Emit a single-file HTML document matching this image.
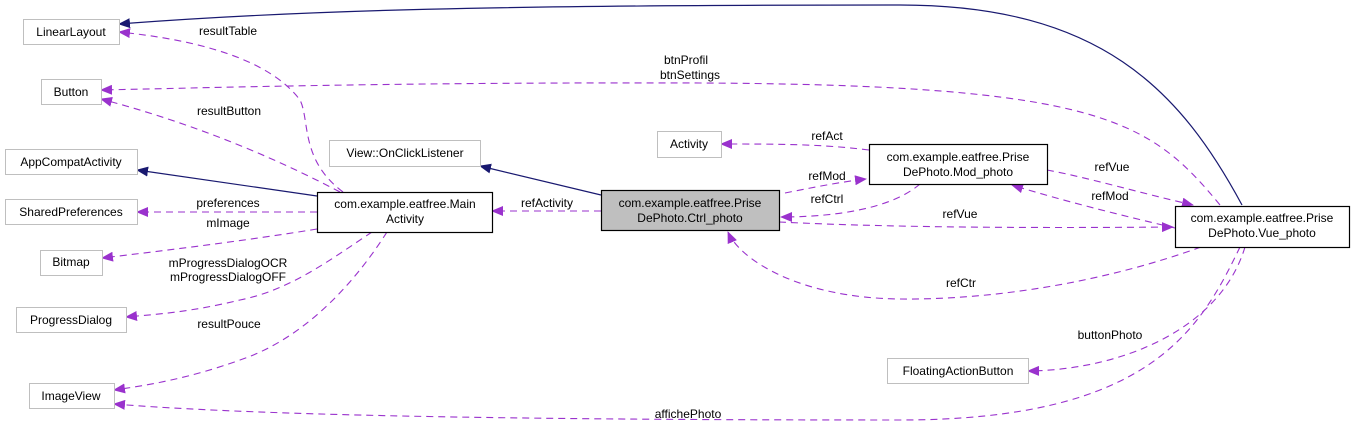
<!DOCTYPE html>
<html><head><meta charset="utf-8"><style>
body{margin:0;background:#fff}
svg{display:block}
text{font-family:"Liberation Sans",Arial,sans-serif;font-size:12px;fill:#000}
.g{fill:#fff;stroke:#bfbfbf;stroke-width:1}
.b{fill:#fff;stroke:#000;stroke-width:1.2}
.d{fill:none;stroke:#9a32cd;stroke-width:1.1;stroke-dasharray:7,5}
.n{fill:none;stroke:#191970;stroke-width:1.2}
</style></head><body>
<svg width="1353" height="428" viewBox="0 0 1353 428">
<defs>
<marker id="p" markerWidth="12" markerHeight="10" refX="11" refY="5" orient="auto" markerUnits="userSpaceOnUse"><path d="M0,0 L12,5 L0,10z" fill="#9a32cd"/></marker>
<marker id="v" markerWidth="12" markerHeight="10" refX="11" refY="5" orient="auto" markerUnits="userSpaceOnUse"><path d="M0,0 L12,5 L0,10z" fill="#191970"/></marker>
</defs>
<!-- edges -->
<path class="n" d="M1242,205 C1180,90 1100,5 900,5 C500,5 300,10 119,24" marker-end="url(#v)"/>
<path class="n" d="M317,196 L137,170" marker-end="url(#v)"/>
<path class="n" d="M601,195 L480,166" marker-end="url(#v)"/>
<path class="d" d="M343,192 C300,160 310,120 300,100 C270,60 200,40 119,32" marker-end="url(#p)"/>
<path class="d" d="M340,192 C260,150 180,120 101,99" marker-end="url(#p)"/>
<path class="d" d="M1220,205 C1150,120 1100,85 700,83 C400,82 200,88 101,90" marker-end="url(#p)"/>
<path class="d" d="M317,212 L137,212" marker-end="url(#p)"/>
<path class="d" d="M317,229 C250,240 170,250 102,258" marker-end="url(#p)"/>
<path class="d" d="M372,232 C330,260 290,290 240,300 C190,312 160,314 126,317" marker-end="url(#p)"/>
<path class="d" d="M387,232 C350,290 300,340 240,360 C190,378 150,385 114,390" marker-end="url(#p)"/>
<path class="d" d="M1240,247 C1200,330 1150,420 900,420 C500,420 250,415 114,404" marker-end="url(#p)"/>
<path class="d" d="M1245,247 C1220,330 1120,370 1028,371" marker-end="url(#p)"/>
<path class="d" d="M601,211 L492,211" marker-end="url(#p)"/>
<path class="d" d="M869,150 C820,144 780,144 721,144" marker-end="url(#p)"/>
<path class="d" d="M785,193 C810,188 840,182 866,179" marker-end="url(#p)"/>
<path class="d" d="M920,184 C890,210 830,217 781,217" marker-end="url(#p)"/>
<path class="d" d="M1047,170 C1090,178 1140,193 1193,205" marker-end="url(#p)"/>
<path class="d" d="M1175,228 C1120,215 1060,200 1012,185" marker-end="url(#p)"/>
<path class="d" d="M779,222 C900,228 1050,228 1173,227" marker-end="url(#p)"/>
<path class="d" d="M1201,247 C1110,280 1000,300 900,299 C800,298 740,260 728,232" marker-end="url(#p)"/>
<!-- labels -->
<text x="228" y="35" text-anchor="middle">resultTable</text>
<text x="229" y="115" text-anchor="middle">resultButton</text>
<text x="686" y="64" text-anchor="middle">btnProfil</text>
<text x="690" y="79" text-anchor="middle">btnSettings</text>
<text x="228" y="207" text-anchor="middle">preferences</text>
<text x="228" y="227" text-anchor="middle">mImage</text>
<text x="228" y="267" text-anchor="middle">mProgressDialogOCR</text>
<text x="228" y="281" text-anchor="middle">mProgressDialogOFF</text>
<text x="229" y="328" text-anchor="middle">resultPouce</text>
<text x="688" y="418" text-anchor="middle">affichePhoto</text>
<text x="1110" y="339" text-anchor="middle">buttonPhoto</text>
<text x="547" y="207" text-anchor="middle">refActivity</text>
<text x="827" y="140" text-anchor="middle">refAct</text>
<text x="827" y="180" text-anchor="middle">refMod</text>
<text x="827" y="203" text-anchor="middle">refCtrl</text>
<text x="960" y="218" text-anchor="middle">refVue</text>
<text x="1112" y="171" text-anchor="middle">refVue</text>
<text x="1110" y="200" text-anchor="middle">refMod</text>
<text x="961" y="287" text-anchor="middle">refCtr</text>
<!-- nodes -->
<rect class="g" x="23.5" y="19.5" width="96" height="25"/><text x="71" y="36" text-anchor="middle">LinearLayout</text>
<rect class="g" x="41.5" y="79.5" width="60" height="25"/><text x="71" y="96" text-anchor="middle">Button</text>
<rect class="g" x="5.5" y="149.5" width="132" height="25"/><text x="71" y="166" text-anchor="middle">AppCompatActivity</text>
<rect class="g" x="5.5" y="199.5" width="132" height="25"/><text x="71" y="216" text-anchor="middle">SharedPreferences</text>
<rect class="g" x="40.5" y="250.5" width="62" height="25"/><text x="71" y="266" text-anchor="middle">Bitmap</text>
<rect class="g" x="16.5" y="307.5" width="110" height="25"/><text x="71" y="324" text-anchor="middle">ProgressDialog</text>
<rect class="g" x="29.5" y="383.5" width="85" height="25"/><text x="71" y="400" text-anchor="middle">ImageView</text>
<rect class="g" x="329.5" y="140.5" width="151" height="26"/><text x="405" y="157" text-anchor="middle">View::OnClickListener</text>
<rect class="g" x="657.5" y="131.5" width="64" height="26"/><text x="689" y="148" text-anchor="middle">Activity</text>
<rect class="g" x="887.5" y="358.5" width="141" height="25"/><text x="958" y="375" text-anchor="middle">FloatingActionButton</text>
<rect class="b" x="317.5" y="192.5" width="175" height="40"/><text x="405" y="208" text-anchor="middle">com.example.eatfree.Main</text><text x="405" y="223" text-anchor="middle">Activity</text>
<rect x="601.5" y="190.5" width="178" height="40" fill="#bfbfbf" stroke="#000" stroke-width="1.2"/><text x="690" y="207" text-anchor="middle">com.example.eatfree.Prise</text><text x="690" y="222" text-anchor="middle">DePhoto.Ctrl_photo</text>
<rect class="b" x="869.5" y="144.5" width="178" height="40"/><text x="958" y="161" text-anchor="middle">com.example.eatfree.Prise</text><text x="958" y="176" text-anchor="middle">DePhoto.Mod_photo</text>
<rect class="b" x="1175.5" y="206.5" width="174" height="41"/><text x="1262" y="222" text-anchor="middle">com.example.eatfree.Prise</text><text x="1262" y="237" text-anchor="middle">DePhoto.Vue_photo</text>
</svg>
</body></html>
